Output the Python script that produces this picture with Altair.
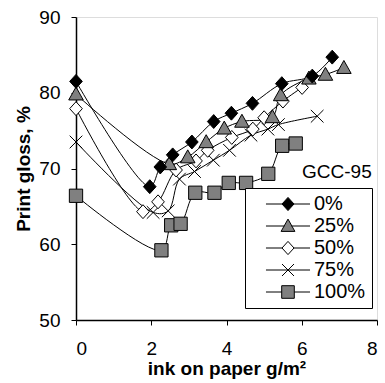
import altair as alt
import pandas as pd

series = ["0%", "25%", "50%", "75%", "100%"]

x0 = [0, 1.96, 2.24, 2.57, 3.08, 3.66, 4.13, 4.69, 5.47, 6.28, 6.81]
y0 = [81.5, 67.6, 70.2, 71.8, 73.5, 76.2, 77.3, 78.6, 81.2, 82.2, 84.7]
x25 = [0, 2.48, 2.97, 3.46, 3.94, 4.41, 5.22, 5.44, 6.19, 6.63, 7.12]
y25 = [79.8, 70.6, 71.5, 73.5, 75.3, 76.2, 76.8, 79.7, 81.9, 82.4, 83.3]
x50 = [0, 1.78, 2.18, 2.66, 3.19, 3.5, 4.14, 4.7, 5.0, 5.5, 6.01]
y50 = [77.9, 64.3, 65.6, 69.8, 71.0, 72.4, 74.1, 75.2, 76.7, 78.9, 80.7]
x75 = [0, 2.05, 2.45, 2.75, 3.15, 3.65, 4.08, 4.65, 5.1, 5.38, 6.41]
y75 = [73.5, 64.2, 64.4, 68.6, 69.6, 71.1, 72.4, 74.4, 75.2, 75.8, 76.9]
x100 = [0, 2.27, 2.53, 2.78, 3.17, 3.68, 4.06, 4.52, 5.11, 5.48, 5.84]
y100 = [66.4, 59.2, 62.5, 62.7, 66.8, 66.8, 68.1, 68.1, 69.3, 73.0, 73.3]

annot_x = [7.86]
annot_y = [68.7]
annot_text = ["GCC-95"]

xs = {"0%": x0, "25%": x25, "50%": x50, "75%": x75, "100%": x100}
ys = {"0%": y0, "25%": y25, "50%": y50, "75%": y75, "100%": y100}

rows = []
for order, s in enumerate(reversed(series)):
    for i, (xv, yv) in enumerate(zip(xs[s], ys[s])):
        rows.append({"series": s, "x": xv, "y": yv, "o": order * 100 + i})
df = pd.DataFrame(rows)

FONT = "Liberation Sans"

fills = ["black", "#808080", "white", "transparent", "#808080"]
strokes = ["black"] * 5
shapes = [
    "M0,-1.1L1,0L0,1.1L-1,0Z",
    "M0,-1.15L1.15,0.9L-1.15,0.9Z",
    "M0,-1.1L1,0L0,1.1L-1,0Z",
    "M-1,-1L1,1M1,-1L-1,1",
    "M-1.05,-1.05H1.05V1.05H-1.05Z",
]
legend_shapes = [
    "M0.83,0H8.17M4.5,-1.1L5.5,0L4.5,1.1L3.5,0Z",
    "M0.83,0H3.9M5.1,0H8.17M4.5,-1.15L5.65,0.9L3.35,0.9Z",
    "M0.83,0H3.5M5.5,0H8.17M4.5,-1.1L5.5,0L4.5,1.1L3.5,0Z",
    "M0.83,0H8.17M3.5,-1L5.5,1M5.5,-1L3.5,1",
    "M0.83,0H3.45M5.55,0H8.17M3.45,-1.05H5.55V1.05H3.45Z",
]

xscale = alt.Scale(domain=[0, 8], nice=False, zero=False)
yscale = alt.Scale(domain=[50, 90], nice=False, zero=False)

xaxis = alt.Axis(
    values=list(range(0, 9)),
    labelExpr="datum.value % 2 == 0 ? datum.label : ''",
    title="ink on paper g/m²",
    grid=False,
    domainColor="black", domainWidth=1.5,
    tickColor="black", tickSize=5, tickWidth=1,
    labelFont=FONT, labelFontSize=19, labelColor="black", labelPadding=14,
    labelOverlap=False,
    titleFont=FONT, titleFontSize=19, titleFontWeight="bold", titleColor="black",
    titlePadding=1,
)
yaxis = alt.Axis(
    values=list(range(50, 95, 5)),
    labelExpr="datum.value % 10 == 0 ? datum.label : ''",
    title="Print gloss, %",
    grid=False,
    domainColor="black", domainWidth=1.5,
    tickColor="black", tickSize=5, tickWidth=1,
    labelFont=FONT, labelFontSize=19, labelColor="black", labelPadding=11,
    labelOverlap=False,
    titleFont=FONT, titleFontSize=19, titleFontWeight="bold", titleColor="black",
    titlePadding=5,
)

base = alt.Chart(df)

lines = base.mark_line(color="black", strokeWidth=1, interpolate="catmull-rom").encode(
    x=alt.X("x:Q", scale=xscale, axis=xaxis),
    y=alt.Y("y:Q", scale=yscale, axis=yaxis),
    detail="series:N",
    order="o:Q",
)

points = base.mark_point(filled=True, strokeWidth=1, size=160, opacity=1).encode(
    x=alt.X("x:Q", scale=xscale),
    y=alt.Y("y:Q", scale=yscale),
    shape=alt.Shape("series:N", scale=alt.Scale(domain=series, range=shapes), legend=None),
    fill=alt.Fill("series:N", scale=alt.Scale(domain=series, range=fills), legend=None),
    stroke=alt.Stroke("series:N", scale=alt.Scale(domain=series, range=strokes), legend=None),
    order="o:Q",
)

legend_props = dict(
    orient="none", legendX=169, legendY=171, title=None,
    padding=6, strokeColor="black", fillColor="white",
    labelFont=FONT, labelFontSize=20, labelColor="black",
    labelOffset=43, rowPadding=2,
    symbolStrokeWidth=1, symbolSize=144,
)

legend_layer = base.transform_filter("false").mark_point(
    filled=True, strokeWidth=1, size=144, opacity=1
).encode(
    x=alt.X("x:Q", scale=xscale),
    y=alt.Y("y:Q", scale=yscale),
    shape=alt.Shape("series:N", scale=alt.Scale(domain=series, range=legend_shapes),
                    legend=alt.Legend(**legend_props)),
    fill=alt.Fill("series:N", scale=alt.Scale(domain=series, range=fills),
                  legend=alt.Legend(**legend_props)),
    stroke=alt.Stroke("series:N", scale=alt.Scale(domain=series, range=strokes),
                      legend=alt.Legend(**legend_props)),
)

annot = alt.Chart(pd.DataFrame({"x": annot_x, "y": annot_y, "t": annot_text})).mark_text(
    align="right", baseline="alphabetic", font=FONT, fontSize=19, color="black"
).encode(x=alt.X("x:Q", scale=xscale), y=alt.Y("y:Q", scale=yscale), text="t:N")

chart = alt.layer(lines, points, annot, legend_layer).resolve_scale(
    shape="independent", fill="independent", stroke="independent"
).properties(
    width=301, height=303,
    autosize=alt.AutoSizeParams(type="none"),
    padding={"left": 76, "top": 17, "right": 8, "bottom": 63},
).configure_view(stroke="#444", strokeWidth=1).configure(background="white")

chart.save("out.html", embed_options={"renderer": "svg", "actions": False})
